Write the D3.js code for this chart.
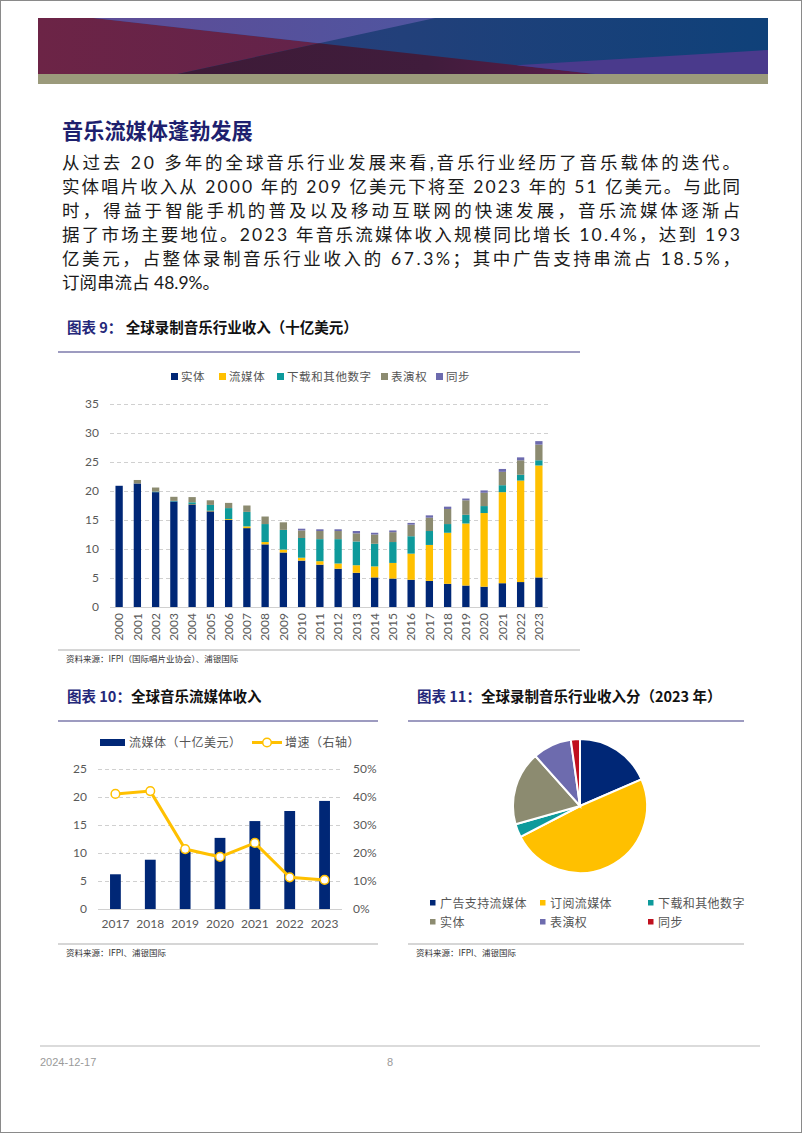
<!DOCTYPE html>
<html><head><meta charset="utf-8">
<script src="https://cdn.jsdelivr.net/npm/d3@7"></script>
<style>
html,body{margin:0;padding:0;background:#fff;}
svg{display:block;}
</style></head><body>
<svg id="page" width="802" height="1133"></svg>
<script>
// ---------- DATA ----------
const years9 = ["2000","2001","2002","2003","2004","2005","2006","2007","2008","2009","2010","2011","2012","2013","2014","2015","2016","2017","2018","2019","2020","2021","2022","2023"];
const physical  = [20.9,21.3,19.8,18.2,17.7,16.5,15.0,13.6,10.8,9.4,8.0,7.3,6.6,5.9,5.1,4.9,4.7,4.5,4.0,3.7,3.5,4.1,4.3,5.1];
const streaming = [0,0,0,0,0.05,0.1,0.15,0.3,0.4,0.5,0.5,0.6,0.9,1.3,1.9,2.7,4.5,6.2,8.8,10.7,12.7,15.7,17.5,19.3];
const downloads = [0,0,0.1,0.1,0.3,1.0,1.9,2.5,3.1,3.4,3.4,3.8,4.2,4.1,3.9,3.6,3.0,2.4,1.5,1.5,1.2,1.2,1.0,0.9];
const perfRights= [0,0.6,0.7,0.7,0.9,0.8,0.9,1.1,1.3,1.3,1.3,1.4,1.4,1.4,1.6,1.7,2.0,2.3,2.6,2.5,2.3,2.3,2.5,2.7];
const syncRev   = [0,0,0,0,0,0,0,0,0,0,0.3,0.3,0.3,0.4,0.3,0.3,0.3,0.4,0.4,0.3,0.4,0.5,0.5,0.6];
const series9Names = ["实体","流媒体","下载和其他数字","表演权","同步"];
const ticks9 = [0,5,10,15,20,25,30,35];

const years10 = ["2017","2018","2019","2020","2021","2022","2023"];
const streamRev10 = [6.2,8.8,10.7,12.7,15.7,17.5,19.3];
const growth10 = [41.1,42.1,21.4,18.6,23.6,11.3,10.4];
const ticks10L = [0,5,10,15,20,25];
const ticks10R = [0,10,20,30,40,50];

const pieLabels = ["广告支持流媒体","订阅流媒体","下载和其他数字","实体","表演权","同步"];
const pieValues = [18.5,48.9,3.2,17.8,9.4,2.2];

const paraLines = [
 "从过去 20 多年的全球音乐行业发展来看,音乐行业经历了音乐载体的迭代。",
 "实体唱片收入从 2000 年的 209 亿美元下将至 2023 年的 51 亿美元。与此同",
 "时，得益于智能手机的普及以及移动互联网的快速发展，音乐流媒体逐渐占",
 "据了市场主要地位。2023 年音乐流媒体收入规模同比增长 10.4%，达到 193",
 "亿美元，占整体录制音乐行业收入的 67.3%；其中广告支持串流占 18.5%，",
 "订阅串流占 48.9%。"
];

// ---------- STYLE ----------
const CJK = "'Noto Sans CJK SC', sans-serif";
const NUM = "Lato, 'Noto Sans CJK SC', sans-serif";
const C9 = ["#002776","#ffc000","#0e9a9b","#8c8b70","#6d6bae"];
const CPIE = ["#002776","#ffc000","#0e9a9b","#8c8b70","#6d6bae","#c0101e"];
const NAVY_T = "#25287a";

const svg = d3.select("#page");
svg.append("rect").attr("x",0.5).attr("y",0.5).attr("width",801).attr("height",1132)
  .attr("fill","#fff").attr("stroke","#8a8a8a");

// ---------- BANNER ----------
const defs = svg.append("defs");
function lg(id, stops){
  const g = defs.append("linearGradient").attr("id",id).attr("x1","0").attr("x2","1").attr("y1","0").attr("y2","0");
  stops.forEach(s=>g.append("stop").attr("offset",s[0]).attr("stop-color",s[1]));
}
lg("gRight",[[0,"#343a7c"],[0.5,"#22407a"],[1,"#0f4179"]]);
lg("gTop",[[0,"#5e4c96"],[1,"#4f55a0"]]);
lg("gBot",[[0,"#3d1b37"],[0.6,"#401c3c"],[1,"#5a1c4a"]]);
lg("gLeft",[[0,"#6c2446"],[1,"#63234a"]]);
const bx=38, by=18, bw=730, bh=56;
const P = (fx,fy)=>[bx+fx*bw, by+fy*bh];
const Cx=0.385, Cy=0.45;
const bannerPolys = [
  {f:"url(#gRight)", p:[[0,0],[1,0],[1,1],[0,1]]},
  {f:"url(#gLeft)", p:[[0,0],[0.076,0],[Cx,Cy],[0.191,1],[0,1]]},
  {f:"url(#gTop)", p:[[0.076,0],[0.544,0],[Cx,Cy]]},
  {f:"url(#gBot)", p:[[Cx,Cy],[0.191,1],[0.763,1]]},
  {f:"#4a3a8c", p:[[0.655,0.845],[1,0.57],[1,1],[0.763,1]]}
];
svg.append("g").selectAll("polygon").data(bannerPolys).join("polygon")
  .attr("points",d=>d.p.map(q=>P(q[0],q[1]).join(",")).join(" "))
  .attr("fill",d=>d.f);
svg.append("rect").attr("x",bx).attr("y",by+bh).attr("width",bw).attr("height",10).attr("fill","#9b9a7b");

// ---------- HEADING + PARAGRAPH ----------
svg.append("text").attr("x",62).attr("y",139).attr("font-family",CJK).attr("font-weight",700)
  .attr("font-size",21.2).attr("fill","#1e1f6e").text("音乐流媒体蓬勃发展");
const para = svg.append("g").attr("font-family",NUM).attr("font-size",17.5).attr("fill","#1a1a1a");
paraLines.forEach((t,i)=>{
  const tx = para.append("text").attr("x",62).attr("y",169+i*24).text(t);
  if(i<5) tx.attr("textLength",678).attr("lengthAdjust","spacing");
});

// ---------- CHART TITLES ----------
function chartTitle(x,y,num,rest,lineX1,lineX2){
  const t = svg.append("text").attr("x",x).attr("y",y).attr("font-family",CJK).attr("font-weight",700).attr("font-size",14.5);
  t.append("tspan").attr("fill",NAVY_T).text(num);
  t.append("tspan").attr("fill","#111").text(rest);
  svg.append("line").attr("x1",lineX1).attr("x2",lineX2).attr("y1",y+19).attr("y2",y+19)
    .attr("stroke","#9d9bc0").attr("stroke-width",2);
}
function source(x,y,txt,lineX1,lineX2){
  svg.append("line").attr("x1",lineX1).attr("x2",lineX2).attr("y1",y-9).attr("y2",y-9).attr("stroke","#c8c8c8").attr("stroke-width",1.5);
  svg.append("text").attr("x",x).attr("y",y+3).attr("font-family",CJK).attr("font-size",8.5).attr("fill","#333").text(txt);
}
chartTitle(67,333,"图表 9： ","全球录制音乐行业收入（十亿美元）",58,580);
chartTitle(67,702,"图表 10：","全球音乐流媒体收入",58,378);
chartTitle(417,702,"图表 11：","全球录制音乐行业收入分（2023 年）",408,744);
source(66,659,"资料来源：IFPI（国际唱片业协会）、浦银国际",58,580);
source(66,953,"资料来源：IFPI、浦银国际",58,378);
source(416,953,"资料来源：IFPI、浦银国际",408,744);

// ---------- CHART 9 ----------
const x9 = d3.scaleBand().domain(years9).range([110,548]).paddingInner(0.6).paddingOuter(0.3);
const y9 = d3.scaleLinear().domain([0,35]).range([607,404]);
const g9 = svg.append("g");
const grid9 = g9.append("g").attr("transform","translate(110,0)")
  .call(d3.axisLeft(y9).tickValues(ticks9).tickSize(-438).tickFormat(d3.format("d")).tickPadding(11));
grid9.select(".domain").remove();
grid9.selectAll(".tick line").attr("stroke","#d0d0d0").attr("stroke-dasharray",d=>d===0?null:"4,3");
grid9.selectAll(".tick text").attr("font-family",NUM).attr("font-size",12).attr("fill","#595959");
const table9 = years9.map((y,i)=>({year:y, s0:physical[i], s1:streaming[i], s2:downloads[i], s3:perfRights[i], s4:syncRev[i]}));
const stack9 = d3.stack().keys(["s0","s1","s2","s3","s4"])(table9);
g9.append("g").selectAll("g").data(stack9).join("g").attr("fill",(d,i)=>C9[i])
  .selectAll("rect").data(d=>d).join("rect")
  .attr("x",d=>x9(d.data.year)).attr("width",x9.bandwidth())
  .attr("y",d=>y9(d[1])).attr("height",d=>Math.max(0,y9(d[0])-y9(d[1])));
const xa9 = g9.append("g").attr("transform","translate(0,607)").call(d3.axisBottom(x9).tickSize(0).tickPadding(0));
xa9.select(".domain").remove();
xa9.selectAll(".tick text").attr("font-family",NUM).attr("font-size",12).attr("fill","#595959")
  .attr("transform","rotate(-90)").attr("text-anchor","end").attr("dx","-6px").attr("dy","0.35em").attr("y",0).attr("x",0);
// legend 9
const leg9X = [171,219,277,381,436];
const leg9 = g9.append("g").selectAll("g").data(series9Names).join("g")
  .attr("transform",(d,i)=>`translate(${leg9X[i]},377)`);
leg9.append("rect").attr("x",0).attr("y",-4).attr("width",7).attr("height",7).attr("fill",(d,i)=>C9[i]);
leg9.append("text").attr("x",10).attr("y",4).attr("font-family",CJK).attr("font-size",11.5).attr("letter-spacing",0.6).attr("fill","#555").text(d=>d);

// ---------- CHART 10 ----------
const x10 = d3.scaleBand().domain(years10).range([98,342]).paddingInner(0.69).paddingOuter(0.345);
const y10L = d3.scaleLinear().domain([0,25]).range([909,769]);
const y10R = d3.scaleLinear().domain([0,50]).range([909,769]);
const g10 = svg.append("g");
const gl10 = g10.append("g").attr("transform","translate(98,0)")
  .call(d3.axisLeft(y10L).tickValues(ticks10L).tickSize(-244).tickPadding(11));
gl10.select(".domain").remove();
gl10.selectAll(".tick line").attr("stroke","#d0d0d0").attr("stroke-dasharray",d=>d===0?null:"4,3");
gl10.selectAll(".tick text").attr("font-family",NUM).attr("font-size",12).attr("fill","#595959");
const gr10 = g10.append("g").attr("transform","translate(342,0)")
  .call(d3.axisRight(y10R).tickValues(ticks10R).tickSize(0).tickPadding(11).tickFormat(d=>d+"%"));
gr10.select(".domain").remove();
gr10.selectAll(".tick text").attr("font-family",NUM).attr("font-size",12).attr("fill","#595959");
g10.selectAll("rect.bar").data(streamRev10).join("rect").attr("class","bar")
  .attr("x",(d,i)=>x10(years10[i])).attr("width",x10.bandwidth())
  .attr("y",d=>y10L(d)).attr("height",d=>909-y10L(d)).attr("fill","#002776");
const xa10 = g10.append("g").attr("transform","translate(0,909)").call(d3.axisBottom(x10).tickSize(0).tickPadding(10));
xa10.select(".domain").remove();
xa10.selectAll(".tick text").attr("font-family",NUM).attr("font-size",12).attr("fill","#595959");
const cx10 = i=>x10(years10[i])+x10.bandwidth()/2;
g10.append("path").datum(growth10).attr("fill","none").attr("stroke","#ffc000").attr("stroke-width",3)
  .attr("d",d3.line().x((d,i)=>cx10(i)).y(d=>y10R(d)));
g10.selectAll("circle.pt").data(growth10).join("circle").attr("class","pt")
  .attr("cx",(d,i)=>cx10(i)).attr("cy",d=>y10R(d)).attr("r",4.3)
  .attr("fill","#fff").attr("stroke","#ffc000").attr("stroke-width",1.5);
// legend 10
g10.append("rect").attr("x",100).attr("y",739).attr("width",25).attr("height",7).attr("fill","#002776");
g10.append("text").attr("x",129).attr("y",747).attr("font-family",CJK).attr("font-size",12).attr("letter-spacing",0.5).attr("fill","#555").text("流媒体（十亿美元）");
g10.append("line").attr("x1",252).attr("x2",282).attr("y1",742.5).attr("y2",742.5).attr("stroke","#ffc000").attr("stroke-width",3);
g10.append("circle").attr("cx",267).attr("cy",742.5).attr("r",4.3).attr("fill","#fff").attr("stroke","#ffc000").attr("stroke-width",1.5);
g10.append("text").attr("x",285).attr("y",747).attr("font-family",CJK).attr("font-size",12).attr("letter-spacing",0.5).attr("fill","#555").text("增速（右轴）");

// ---------- CHART 11 (PIE) ----------
const g11 = svg.append("g").attr("transform","translate(580,806)");
const pie = d3.pie().sort(null).value(d=>d);
const arc = d3.arc().innerRadius(0).outerRadius(67);
g11.selectAll("path").data(pie(pieValues)).join("path")
  .attr("d",arc).attr("fill",(d,i)=>CPIE[i]).attr("stroke","#fff").attr("stroke-width",2);
const legX11 = [430,540,648], legY11 = [903,922];
const leg11 = svg.append("g").selectAll("g").data(pieLabels).join("g")
  .attr("transform",(d,i)=>`translate(${legX11[i%3]},${legY11[Math.floor(i/3)]})`);
leg11.append("rect").attr("x",0).attr("y",-3).attr("width",5.5).attr("height",5.5).attr("fill",(d,i)=>CPIE[i]);
leg11.append("text").attr("x",10).attr("y",4.5).attr("font-family",CJK).attr("font-size",12).attr("letter-spacing",0.4).attr("fill","#555").text(d=>d);

// ---------- FOOTER ----------
svg.append("line").attr("x1",40).attr("x2",760).attr("y1",1046).attr("y2",1046).attr("stroke","#cfcfcf").attr("stroke-width",1.5);
svg.append("text").attr("x",40).attr("y",1066).attr("font-family","'Liberation Sans Narrow','Liberation Sans',sans-serif").attr("font-size",11).attr("fill","#9a9a9a").text("2024-12-17");
svg.append("text").attr("x",387).attr("y",1066).attr("font-family","'Liberation Sans Narrow','Liberation Sans',sans-serif").attr("font-size",11).attr("fill","#9a9a9a").text("8");
</script>
</body></html>
